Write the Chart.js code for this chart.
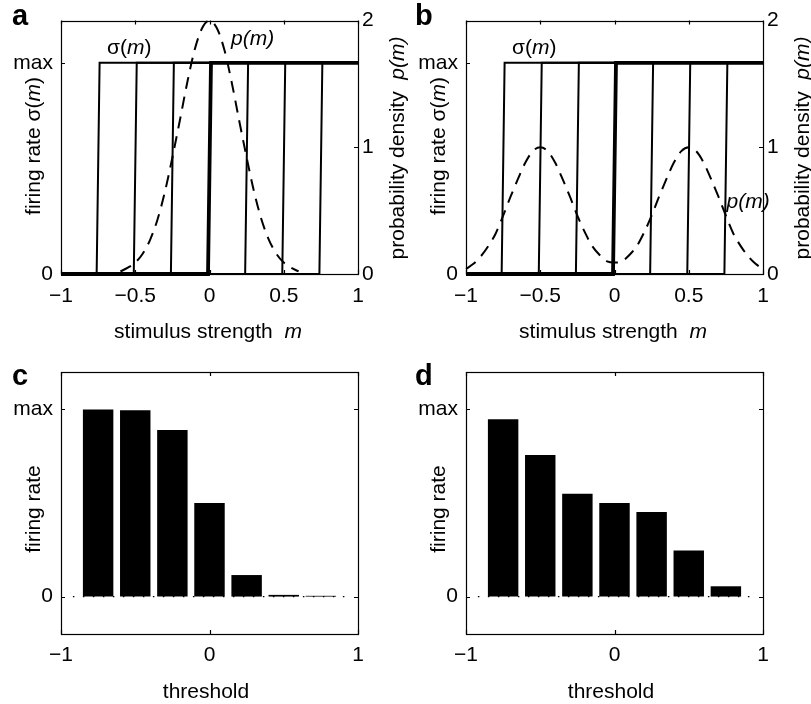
<!DOCTYPE html>
<html><head><meta charset="utf-8">
<script src="https://cdn.jsdelivr.net/npm/chart.js@4.4.1/dist/chart.umd.min.js"></script>
<style>
html,body{margin:0;padding:0;background:#fff;}
body{width:811px;height:704px;position:relative;overflow:hidden;}
canvas{position:absolute;}
</style></head><body>
<canvas id="ca" width="415" height="352" style="left:0px;top:0px"></canvas>
<canvas id="cb" width="406" height="352" style="left:405px;top:0px"></canvas>
<canvas id="cc" width="406" height="364" style="left:0px;top:340px"></canvas>
<canvas id="cd" width="406" height="364" style="left:405px;top:340px"></canvas>
<script>
// ---------- data ----------
const thresholds = [-0.75, -0.5, -0.25, 0, 0.25, 0.5, 0.75];
const boldThreshold = 0;
const stepRampHalfWidth = 0.01;
const stepLow = 0;
const stepHigh = 1;

const stimulusA = [-0.6,-0.55,-0.5,-0.45,-0.4,-0.35,-0.3,-0.25,-0.2,-0.15,-0.1,-0.05,0,0.05,0.1,0.15,0.2,0.25,0.3,0.35,0.4,0.45,0.5,0.55,0.6];
const densityA = [0.02,0.05,0.09,0.16,0.27,0.43,0.65,0.92,1.21,1.51,1.77,1.94,2.00,1.94,1.77,1.51,1.21,0.92,0.65,0.43,0.27,0.16,0.09,0.05,0.02];

const stimulusB = [-1,-0.95,-0.9,-0.85,-0.8,-0.75,-0.7,-0.65,-0.6,-0.55,-0.5,-0.45,-0.4,-0.35,-0.3,-0.25,-0.2,-0.15,-0.1,-0.05,0,0.05,0.1,0.15,0.2,0.25,0.3,0.35,0.4,0.45,0.5,0.55,0.6,0.65,0.7,0.75,0.8,0.85,0.9,0.95,1];
const densityB = [0.04,0.08,0.14,0.22,0.32,0.46,0.61,0.75,0.88,0.97,1.00,0.97,0.88,0.75,0.61,0.46,0.33,0.22,0.15,0.10,0.09,0.10,0.15,0.22,0.33,0.46,0.61,0.75,0.88,0.97,1.00,0.97,0.88,0.75,0.61,0.46,0.32,0.22,0.14,0.08,0.04];

const firingC = [1.00, 0.995, 0.89, 0.50, 0.115, 0.009, 0.004];
const firingD = [0.947, 0.757, 0.55, 0.50, 0.452, 0.246, 0.055];
const baselineExtent = [-0.92, 0.95];

const rateTickValues = [0, 1];
const rateTickLabels = ['0', 'max'];
const densityTickValues = [0, 1, 2];
const densityTickLabels = ['0', '1', '2'];
const stimTickValues = [-1, -0.5, 0, 0.5, 1];
const stimTickLabels = ['\u22121', '\u22120.5', '0', '0.5', '1'];
const thrTickValues = [-1, 0, 1];
const thrTickLabels = ['\u22121', '0', '1'];

// ---------- layout / style ----------
const FONT = "'Liberation Sans', Arial, Helvetica, sans-serif";
const FS = 21;
Chart.defaults.font.family = FONT;
Chart.defaults.font.size = FS;
Chart.defaults.color = '#000';
Chart.defaults.animation = false;

const PLOT_L = 61, PLOT_R = 358;
const TOP_T = 13, TOP_B = 274;
const BOT_T = 32, BOT_B = 294;

function fixedTicks(values, labels, padding) {
  return {
    afterBuildTicks: s => { s.ticks = values.map(v => ({ value: v })); },
    ticks: { autoSkip: false, maxRotation: 0, padding: padding, callback: (v, i) => labels[i] }
  };
}
const noGrid = { grid: { display: false, drawTicks: false }, border: { display: false } };

const framePlugin = {
  id: 'frame',
  afterDraw(chart, args, o) {
    const ctx = chart.ctx, a = chart.chartArea, L = o.tickLen || 4;
    const r = v => Math.round(v) + 0.5;
    ctx.save();
    ctx.strokeStyle = '#000';
    ctx.lineWidth = 1.2;
    ctx.strokeRect(r(a.left), r(a.top), Math.round(a.right) - Math.round(a.left), Math.round(a.bottom) - Math.round(a.top));
    ctx.beginPath();
    const xs = chart.scales.x;
    xs.ticks.forEach(t => {
      const p = r(xs.getPixelForValue(t.value));
      ctx.moveTo(p, a.bottom); ctx.lineTo(p, a.bottom - L);
      ctx.moveTo(p, a.top); ctx.lineTo(p, a.top + L);
    });
    const ys = chart.scales.y;
    ys.ticks.forEach(t => {
      const p = r(ys.getPixelForValue(t.value));
      ctx.moveTo(a.left, p); ctx.lineTo(a.left + L, p);
      if (o.mirrorY) { ctx.moveTo(a.right, p); ctx.lineTo(a.right - L, p); }
    });
    if (chart.scales.y2) {
      const y2 = chart.scales.y2;
      y2.ticks.forEach(t => {
        const p = r(y2.getPixelForValue(t.value));
        ctx.moveTo(a.right, p); ctx.lineTo(a.right - L, p);
      });
    }
    ctx.stroke();
    ctx.restore();
  }
};

const textPlugin = {
  id: 'texts',
  afterDraw(chart, args, o) {
    const ctx = chart.ctx;
    (o.items || []).forEach(it => {
      let x = it.x, y = it.y;
      if (it.xv !== undefined) {
        x = chart.scales.x.getPixelForValue(it.xv);
        y = chart.scales[it.ys || 'y'].getPixelForValue(it.yv);
      }
      const size = it.size || FS;
      const fontOf = s => (it.bold ? 'bold ' : '') + (s[1] ? 'italic ' : '') + size + 'px ' + FONT;
      ctx.save();
      ctx.translate(x, y);
      if (it.rot) ctx.rotate(it.rot);
      ctx.fillStyle = '#000';
      ctx.textBaseline = it.base || 'alphabetic';
      ctx.textAlign = 'left';
      let w = 0;
      it.segs.forEach(s => { ctx.font = fontOf(s); w += ctx.measureText(s[0]).width; });
      let cx = it.align === 'left' ? 0 : -w / 2;
      it.segs.forEach(s => { ctx.font = fontOf(s); ctx.fillText(s[0], cx, 0); cx += ctx.measureText(s[0]).width; });
      ctx.restore();
    });
  }
};

function stepDatasets() {
  return thresholds.map(t => ({
    type: 'line',
    data: [{ x: -1, y: stepLow }, { x: t - stepRampHalfWidth, y: stepLow }, { x: t + stepRampHalfWidth, y: stepHigh }, { x: 1, y: stepHigh }],
    borderColor: '#000',
    borderWidth: t === boldThreshold ? 3.8 : 2,
    pointRadius: 0, tension: 0, fill: false, clip: false,
    xAxisID: 'x', yAxisID: 'y'
  }));
}

function makeStimChart(id, letter, stim, dens, pLabel) {
  const datasets = stepDatasets();
  datasets.push({
    type: 'line',
    data: stim.map((m, i) => ({ x: m, y: dens[i] })),
    borderColor: '#000', borderWidth: 2, borderDash: [12, 8],
    pointRadius: 0, cubicInterpolationMode: 'monotone', fill: false, clip: false,
    xAxisID: 'x', yAxisID: 'y2'
  });
  return new Chart(document.getElementById(id), {
    type: 'line',
    data: { datasets },
    options: {
      responsive: false, animation: false, events: [],
      layout: { autoPadding: false, padding: { top: TOP_T, left: 0, right: 0, bottom: 0 } },
      plugins: {
        legend: { display: false }, tooltip: { enabled: false },
        frame: { tickLen: 4, mirrorY: false },
        texts: { items: [
          { segs: [[letter, 0]], x: letter === 'a' ? 12 : 10, y: 25, bold: true, size: 29, align: 'left' },
          { segs: [['firing rate \u03c3(', 0], ['m', 1], [')', 0]], x: 40, y: 146, rot: -Math.PI / 2 },
          { segs: [['probability density  ', 0], ['p(m)', 1]], x: 404, y: 148, rot: -Math.PI / 2 },
          { segs: [['stimulus strength  ', 0], ['m', 1]], x: 208, y: 338 },
          { segs: [['\u03c3(', 0], ['m', 1], [')', 0]], xv: -0.54, yv: 1.07, base: 'middle' },
          { segs: [['p(m)', 1]], xv: pLabel[0], yv: pLabel[1], base: 'middle' }
        ] }
      },
      scales: {
        x: Object.assign({ type: 'linear', min: -1, max: 1, offset: false,
              afterFit: s => { s.height = s.chart.height - TOP_B; } }, noGrid, fixedTicks(stimTickValues, stimTickLabels, 10)),
        y: Object.assign({ type: 'linear', position: 'left', min: 0, max: 1.2,
              afterFit: s => { s.width = PLOT_L; } }, noGrid, fixedTicks(rateTickValues, rateTickLabels, 8)),
        y2: Object.assign({ type: 'linear', position: 'right', min: 0, max: 2,
              afterFit: s => { s.width = s.chart.width - PLOT_R; } }, noGrid, fixedTicks(densityTickValues, densityTickLabels, 4))
      }
    },
    plugins: [framePlugin, textPlugin]
  });
}

function makeBarChart(id, letter, values) {
  return new Chart(document.getElementById(id), {
    type: 'bar',
    data: { datasets: [
      { type: 'line', data: baselineExtent.map(m => ({ x: m, y: 0 })),
        borderColor: '#000', borderWidth: 1.3, borderDash: [1.5, 8.5], pointRadius: 0, fill: false, clip: false },
      { type: 'bar', data: thresholds.map((t, i) => ({ x: t, y: values[i] })),
        backgroundColor: '#000', borderWidth: 0, barPercentage: 0.82, categoryPercentage: 1 }
    ] },
    options: {
      responsive: false, animation: false, events: [],
      layout: { autoPadding: false, padding: { top: BOT_T, left: 0, right: 406 - PLOT_R, bottom: 0 } },
      plugins: {
        legend: { display: false }, tooltip: { enabled: false },
        frame: { tickLen: 4, mirrorY: true },
        texts: { items: [
          { segs: [[letter, 0]], x: letter === 'c' ? 12 : 10, y: 45, bold: true, size: 29, align: 'left' },
          { segs: [['firing rate', 0]], x: 40, y: 169, rot: -Math.PI / 2 },
          { segs: [['threshold', 0]], x: 206, y: 358 }
        ] }
      },
      scales: {
        x: Object.assign({ type: 'linear', min: -1, max: 1, offset: false,
              afterFit: s => { s.height = s.chart.height - BOT_B; } }, noGrid, fixedTicks(thrTickValues, thrTickLabels, 9)),
        y: Object.assign({ type: 'linear', position: 'left', min: -0.2, max: 1.2, beginAtZero: false,
              afterFit: s => { s.width = PLOT_L; } }, noGrid, fixedTicks(rateTickValues, rateTickLabels, 8))
      }
    },
    plugins: [framePlugin, textPlugin]
  });
}

makeStimChart('ca', 'a', stimulusA, densityA, [0.29, 1.11]);
makeStimChart('cb', 'b', stimulusB, densityB, [0.9, 0.34]);
makeBarChart('cc', 'c', firingC);
makeBarChart('cd', 'd', firingD);
</script>
</body></html>
